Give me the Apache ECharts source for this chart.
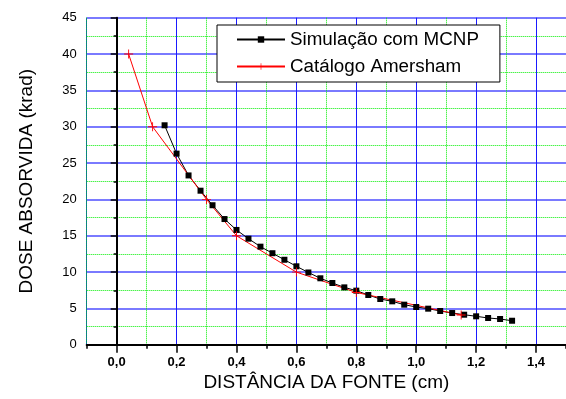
<!DOCTYPE html>
<html><head><meta charset="utf-8">
<script src="https://cdn.jsdelivr.net/npm/echarts@6/dist/echarts.min.js"></script>
<style>html,body{margin:0;padding:0;background:#fff}#c{width:566px;height:399px}</style>
</head><body><div id="c"></div>
<script>
// ---- data ----
const simX = [0.16,0.20,0.24,0.28,0.32,0.36,0.40,0.44,0.48,0.52,0.56,0.60,0.64,0.68,0.72,0.76,0.80,0.84,0.88,0.92,0.96,1.00,1.04,1.08,1.12,1.16,1.20,1.24,1.28,1.32];
const simY = [30.2,26.3,23.3,21.2,19.2,17.3,15.8,14.6,13.5,12.6,11.7,10.8,9.95,9.15,8.5,7.9,7.45,6.85,6.3,5.98,5.52,5.2,4.97,4.65,4.37,4.14,3.92,3.69,3.55,3.31];
const catX = [0.04,0.12,0.30,0.40,0.60,0.80,1.15];
const catY = [40,30,20,15,10,7.2,4.1];
const seriesNames = ['Simulação com MCNP','Catálogo Amersham'];
const xTickValues = [0.0,0.2,0.4,0.6,0.8,1.0,1.2,1.4];
const yTickValues = [0,5,10,15,20,25,30,35,40,45];
const xTitle = 'DISTÂNCIA DA FONTE (cm)';
const yTitle = 'DOSE ABSORVIDA (krad)';
const xMin = -0.1, xMax = 1.5;

const FONT = 'Liberation Sans';
const pairs = (xs, ys) => xs.map((x, i) => [x, ys[i]]);
const crossPath = 'path://M4.5,0H5.5V4.5H10V5.5H5.5V10H4.5V5.5H0V4.5H4.5Z';
const fmtX = v => {
  const hit = xTickValues.some(t => Math.abs(t - v) < 1e-6);
  return hit ? v.toFixed(1).replace('.', ',') : '';
};

const chart = echarts.init(document.getElementById('c'), null, {renderer: 'canvas'});
chart.setOption({
  animation: false,
  backgroundColor: '#fff',
  grid: {left: 86.7, top: 17.7, bottom: 54.2, right: -8.7, containLabel: false},
  legend: {
    orient: 'vertical', left: 217, top: 25,
    padding: [5, 21, 6, 19],
    itemWidth: 48, itemHeight: 8, itemGap: 8,
    borderColor: '#000', borderWidth: 1, backgroundColor: '#fff',
    textStyle: {fontFamily: FONT, fontSize: 18.8, color: '#000'},
    data: seriesNames
  },
  xAxis: [{
    type: 'value', min: xMin, max: xMax, splitNumber: 8,
    name: xTitle, nameLocation: 'middle', nameGap: 28,
    nameTextStyle: {fontFamily: FONT, fontSize: 19, color: '#000'},
    axisLine: {show: true, onZero: false, lineStyle: {color: '#000', width: 2}},
    axisTick: {show: true, length: 8, lineStyle: {color: '#000', width: 1.5}},
    axisLabel: {show: true, showMinLabel: false, showMaxLabel: false, margin: 11,
      fontFamily: FONT, fontSize: 13, fontWeight: 'bold', color: '#000', formatter: fmtX},
    splitLine: {show: true, lineStyle: {color: '#1a1aff', width: 1}}
  }, {
    type: 'value', min: xMin, max: xMax, interval: 0.1, position: 'bottom',
    axisLine: {show: false},
    axisTick: {show: true, length: 4, lineStyle: {color: '#000', width: 1.5}},
    axisLabel: {show: false},
    splitLine: {show: true, lineStyle: {color: ['#00ee00', 'rgba(0,0,0,0)'], width: 1, type: 'dotted'}}
  }],
  yAxis: {
    type: 'value', min: yTickValues[0], max: yTickValues[yTickValues.length - 1],
    interval: yTickValues[1] - yTickValues[0],
    name: yTitle, nameLocation: 'middle', nameGap: 50,
    nameTextStyle: {fontFamily: FONT, fontSize: 19, color: '#000'},
    axisLine: {show: true, lineStyle: {color: '#000', width: 2}},
    axisTick: {show: true, length: 6, lineStyle: {color: '#000', width: 1.5}},
    minorTick: {show: true, splitNumber: 2, length: 3, lineStyle: {color: '#000', width: 1.5}},
    axisLabel: {margin: 10, fontFamily: FONT, fontSize: 13, color: '#000'},
    splitLine: {show: true, lineStyle: {color: '#7a7aff', width: 2}},
    minorSplitLine: {show: true, lineStyle: {color: '#00ee00', width: 1, type: 'dotted'}}
  },
  series: [{
    name: seriesNames[0], type: 'line', xAxisIndex: 0,
    data: pairs(simX, simY),
    symbol: 'rect', symbolSize: 6,
    lineStyle: {color: '#000', width: 1},
    itemStyle: {color: '#000'}
  }, {
    name: seriesNames[1], type: 'line', xAxisIndex: 0,
    data: pairs(catX, catY),
    symbol: crossPath, symbolSize: 9,
    lineStyle: {color: '#ff0000', width: 1},
    itemStyle: {color: '#ff0000'}
  }]
});
</script></body></html>
